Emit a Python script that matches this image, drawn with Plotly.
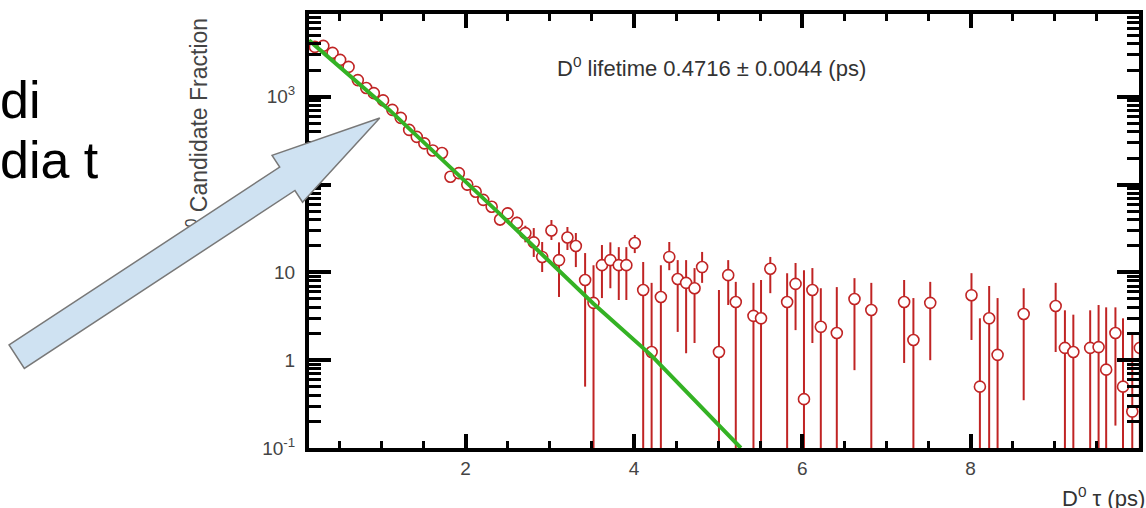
import math
import plotly.graph_objects as go

# ---------------- data ----------------
tau_x = [0.21, 0.31, 0.42, 0.51, 0.61, 0.72, 0.82, 0.91, 1.02, 1.13, 1.23, 1.33, 1.42, 1.51,
         1.61, 1.72, 1.82, 1.92, 2.02, 2.12, 2.21, 2.31, 2.41, 2.50, 2.61, 2.71, 2.81, 2.91,
         3.02, 3.11, 3.21, 3.31, 3.42, 3.52, 3.62, 3.72, 3.82, 3.91, 4.01, 4.11, 4.21, 4.32,
         4.42, 4.52, 4.62, 4.72, 4.81, 5.01, 5.12, 5.21, 5.42, 5.51, 5.62, 5.82, 5.92, 6.02,
         6.12, 6.22, 6.41, 6.62, 6.82, 7.21, 7.32, 7.52, 8.01, 8.11, 8.22, 8.32, 8.63, 9.01,
         9.12, 9.22, 9.42, 9.52, 9.61, 9.72, 9.81, 9.92, 10.01]
frac_y = [3700, 3800, 3160, 2630, 2190, 1550, 1260, 1100, 910, 710, 575, 420, 350, 295,
          245, 229, 123, 135, 100, 83, 67, 56, 40, 47, 36.6, 28, 22, 15,
          30, 13.8, 25, 20, 8.2, 4.5, 12.1, 13.8, 12.1, 12.1, 21.6, 6.3, 1.24, 5.25,
          15, 8.4, 7.6, 6.6, 11.5, 1.24, 9.3, 4.6, 3.2, 3.0, 11, 4.6, 7.4, 0.36,
          6.3, 2.4, 2.04, 4.98, 3.73, 4.6, 1.70, 4.5, 5.5, 0.50, 3.0, 1.15, 3.36, 4.14,
          1.38, 1.24, 1.38, 1.41, 0.78, 2.04, 0.50, 0.26, 1.38]
err_hi = [3900, 4000, 3330, 2780, 2320, 1650, 1350, 1180, 980, 770, 625, 460, 385, 325,
          272, 255, 140, 153, 115, 95, 77, 65, 47, 55, 43, 34, 32, 22.2,
          39.5, 22, 32.9, 28.1, 16.6, 12.1, 20.5, 22, 19.4, 19.4, 26.7, 13.1, 7.6, 12.1,
          22.2, 13.8, 13.8, 11.2, 17.1, 6.3, 13.8, 7.8, 7.6, 8.2, 15, 9.8, 12.8, 10.6,
          11.2, 6.6, 6.8, 8.6, 7.6, 8.2, 5.1, 7.8, 9.8, 3.0, 7.0, 5.1, 6.6, 7.6,
          3.7, 3.3, 3.7, 4.25, 4.0, 4.0, 3.0, 2.04, 2.04]
err_lo = [3500, 3600, 2990, 2480, 2060, 1450, 1170, 1020, 840, 650, 525, 380, 315, 265,
          218, 203, 106, 117, 85, 72, 58, 48, 34, 40, 30, 22, 15, 10.1,
          23.4, 5.25, 18, 11.5, 0.5, 0.01, 5.1, 6.6, 4.85, 4.85, 16.6, 0.01, 0.01, 0.01,
          10.6, 2.1, 1.2, 1.57, 7.6, 0.01, 4.25, 0.01, 0.01, 0.01, 5.8, 0.01, 2.2, 0.01,
          1.57, 0.01, 0.01, 0.77, 0.01, 0.93, 0.01, 1.0, 1.7, 0.01, 0.01, 0.01, 0.35, 1.24,
          0.01, 0.01, 0.01, 0.01, 0.01, 0.18, 0.01, 0.01, 0.01]

fit_x = [0.14, 1.10, 2.40, 3.52, 4.20, 5.27]
fit_y = [4400, 700, 47, 4.4, 1.15, 0.1]

y_tickvals = [0.1, 1, 10, 100, 1000]
y_ticktext = ["10<sup>-1</sup>", "1", "10", "10<sup>2</sup>", "10<sup>3</sup>"]
x_tickvals = [2, 4, 6, 8, 10]
x_ticktext = ["2", "4", "6", "8", "10"]

fit_label = "D<sup>0</sup> lifetime 0.4716 ± 0.0044 (ps)"
y_title = "D<sup>0</sup> Candidate Fraction"
x_title = "D<sup>0</sup> τ (ps)"
slide_lines = ["di", "dia t"]

# ---------------- layout geometry (screen pixels) ----------------
W, H = 1146, 508
L, R, T, B = 309, 1143, 14, 448
FONT = "Liberation Sans, Arial, Helvetica"


def px(x):
    return (x - L) / (R - L)


def py(y):
    return (B - y) / (B - T)


RED = "rgb(192,36,36)"
GREEN = "rgb(52,178,36)"

fig = go.Figure()
fig.add_trace(go.Scatter(
    x=tau_x, y=frac_y, mode="markers",
    marker=dict(symbol="circle", size=11, color="white",
                line=dict(color=RED, width=1.6)),
    error_y=dict(type="data", symmetric=False,
                 array=[h - v for h, v in zip(err_hi, frac_y)],
                 arrayminus=[v - l for l, v in zip(err_lo, frac_y)],
                 color=RED, thickness=2, width=0),
    showlegend=False, hoverinfo="skip"))
fig.add_trace(go.Scatter(
    x=fit_x, y=fit_y, mode="lines",
    line=dict(color=GREEN, width=4), showlegend=False, hoverinfo="skip"))

minor_y = [m * 10 ** e for e in range(-1, 4) for m in range(2, 10)]

fig.update_xaxes(
    range=[0.14, 10.0], showgrid=False, zeroline=False,
    showline=True, linewidth=4, linecolor="black", mirror="allticks",
    ticks="inside", ticklen=14, tickwidth=4, tickcolor="black",
    tickvals=x_tickvals, ticktext=x_ticktext,
    tickfont=dict(family=FONT, size=19, color="#444"),
    minor=dict(ticks="inside", ticklen=7, tickwidth=3, tickcolor="black",
               dtick=0.5, tick0=0))
fig.update_yaxes(
    type="log", range=[-1, 3.943], showgrid=False, zeroline=False,
    showline=True, linewidth=4, linecolor="black", mirror="allticks",
    ticks="inside", ticklen=22, tickwidth=4, tickcolor="black",
    tickvals=y_tickvals, ticktext=y_ticktext, ticklabelstandoff=6,
    tickfont=dict(family=FONT, size=19, color="#444"),
    minor=dict(ticks="inside", ticklen=12, tickwidth=3, tickcolor="black",
               tickvals=minor_y))

# --- block arrow (decoration) ---
tail = (15.3, 356.7)
tip = (380.1, 118.0)
dx, dy = tip[0] - tail[0], tip[1] - tail[1]
ln = math.hypot(dx, dy)
ux, uy = dx / ln, dy / ln
nx, ny = -uy, ux
shaft_hw, head_hw, head_len = 14, 28, 111
base = ln - head_len
pts = [(0, -shaft_hw), (base, -shaft_hw), (base, -head_hw), (ln, 0),
       (base, head_hw), (base, shaft_hw), (0, shaft_hw)]
path = ""
for i, (s, w) in enumerate(pts):
    X = tail[0] + s * ux + w * nx
    Y = tail[1] + s * uy + w * ny
    path += ("M" if i == 0 else "L") + f"{px(X):.5f},{py(Y):.5f} "
path += "Z"

shapes = [
    # y-axis title carried as a shape label so that the arrow can overlap it
    dict(type="rect", xref="paper", yref="paper",
         x0=px(185), x1=px(211), y0=py(252), y1=py(10),
         line=dict(width=0), fillcolor="rgba(0,0,0,0)", layer="above",
         label=dict(text=y_title, textangle=-90, textposition="middle center",
                    font=dict(family=FONT, size=23, color="#444"))),
    dict(type="path", xref="paper", yref="paper", path=path,
         fillcolor="rgb(207,226,242)", line=dict(color="rgb(120,120,120)", width=1.5),
         layer="above"),
]

annotations = [
    dict(text=fit_label, xref="paper", yref="paper", x=px(713), y=py(67),
         showarrow=False, xanchor="center", yanchor="middle",
         font=dict(family=FONT, size=22, color="#333")),
    dict(text=x_title, xref="paper", yref="paper", x=px(1064), y=py(497),
         showarrow=False, xanchor="left", yanchor="middle",
         font=dict(family=FONT, size=22, color="#333")),
    dict(text=slide_lines[0], xref="paper", yref="paper", x=px(-3), y=py(100),
         showarrow=False, xanchor="left", yanchor="middle",
         font=dict(family=FONT, size=52, color="black")),
    dict(text=slide_lines[1], xref="paper", yref="paper", x=px(-3), y=py(160),
         showarrow=False, xanchor="left", yanchor="middle",
         font=dict(family=FONT, size=52, color="black")),
]

fig.update_layout(
    width=W, height=H, margin=dict(l=L, r=W - R, t=T, b=H - B, pad=0),
    paper_bgcolor="white", plot_bgcolor="white",
    shapes=shapes, annotations=annotations, showlegend=False)

fig.write_html(
    "out.html",
    config={"displayModeBar": False, "staticPlot": True},
    post_script="document.body.style.margin='0';document.body.style.padding='0';"
                "document.body.style.overflow='hidden';")
